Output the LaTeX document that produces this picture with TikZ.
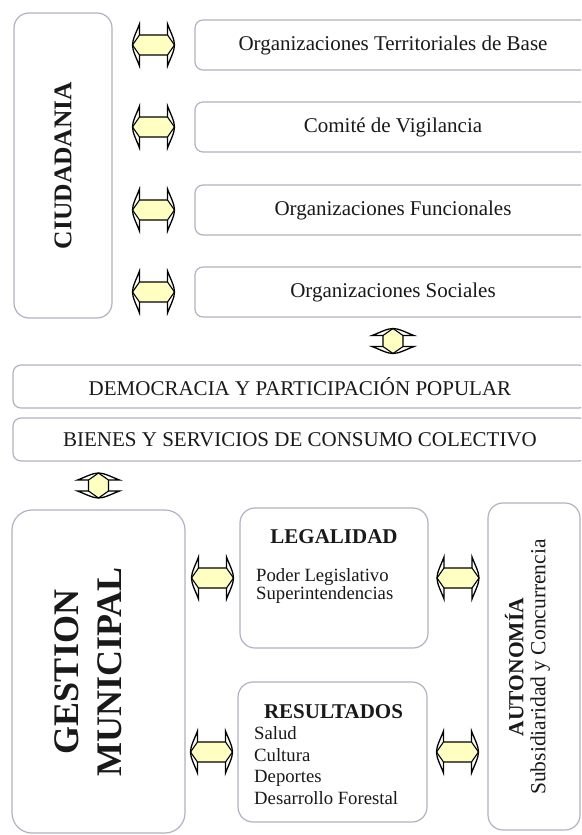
\documentclass[tikz,border=0pt]{standalone}
\usepackage{fontspec}
\setmainfont{Liberation Serif}
\usetikzlibrary{calc}
\definecolor{boxline}{HTML}{B4B0C4}
\definecolor{arrowfill}{HTML}{FFFFC2}
\tikzset{
  pics/dblarrow/.style={code={
    \pgfmathsetmacro\ha{#1/2}
    \pgfmathsetmacro\hb{#1/2-7}
    \filldraw[fill=arrowfill, draw=black, line width=1.1pt, line join=round]
      (-\ha,0) -- (-\hb,10) -- (\hb,10) -- (\ha,0) -- (\hb,-10) -- (-\hb,-10) -- cycle;
    \draw[line width=1.3pt] (-\hb,10) -- (-\hb,21) .. controls (-\hb-3,13) and (-\ha,6) .. (-\ha,0)
      .. controls (-\ha,-6) and (-\hb-3,-13) .. (-\hb,-21) -- (-\hb,-10);
    \draw[line width=1.3pt] (\hb,10) -- (\hb,21) .. controls (\hb+3,13) and (\ha,6) .. (\ha,0)
      .. controls (\ha,-6) and (\hb+3,-13) .. (\hb,-21) -- (\hb,-10);
  }}
}
\begin{document}
\begin{tikzpicture}[x=1pt,y=-1pt,
  box/.style={draw=boxline, line width=1.2pt, rounded corners=8pt, inner sep=0pt},
  txt/.style={font=\fontsize{21}{24}\selectfont, text=black!90},
  bold/.style={font=\bfseries\fontsize{21}{24}\selectfont, text=black!90}]
  \clip (0,0) rectangle (581,835);
  \fill[white] (0,0) rectangle (581,835);
  \node[box, rounded corners=15pt, minimum width=98pt, minimum height=305pt] (ciud) at (63,165.5) {};
  \node[rotate=90, font=\bfseries\fontsize{25.5}{28}\selectfont, text=black!90] (ciudtxt) at (ciud.center) {CIUDADANIA};
  \foreach \y/\t/\n in {45/Organizaciones Territoriales de Base/otb, 127/Comité de Vigilancia/cv,
      210/Organizaciones Funcionales/of, 292/Organizaciones Sociales/os} {
    \node[box, txt, minimum width=396pt, minimum height=50pt] (\n) at (393,\y) {\t};
    \pic at ($(ciud.east |- \n.west)!.5!(\n.west)$) {dblarrow=42};
  }
  \node[box, txt, minimum width=574pt, minimum height=43pt] (demo) at (300,386.5) {DEMOCRACIA Y PARTICIPACIÓN POPULAR};
  \node[box, txt, minimum width=574pt, minimum height=43pt] (bienes) at (300,439.5) {BIENES Y SERVICIOS DE CONSUMO COLECTIVO};
  \pic[rotate=90] at ($(os.south)!.5!(os.south |- demo.north)$) {dblarrow=25};
  \node[box, rounded corners=20pt, minimum width=173pt, minimum height=323pt] (gest) at (98.5,671.5) {};
  \node[rotate=90, align=center, font=\bfseries\fontsize{36}{43}\selectfont, text=black!90] (gesttxt) at (88,672) {GESTION\\MUNICIPAL};
  \pic[rotate=90] at ($(bienes.south -| gest.north)!.5!(gest.north)$) {dblarrow=25};
  \node[box, rounded corners=15pt, minimum width=188pt, minimum height=140pt] (legal) at (334,578) {};
  \node[bold] (legaltit) at (334,537) {LEGALIDAD};
  \node[anchor=west, align=left, inner sep=0pt, text=black!90, font=\fontsize{18.7}{18.3}\selectfont] (legalitems) at (256,586) {Poder Legislativo\\Superintendencias};
  \node[box, rounded corners=15pt, minimum width=189pt, minimum height=140pt] (result) at (332.5,752) {};
  \node[bold] (resulttit) at (333.5,712) {RESULTADOS};
  \node[anchor=west, align=left, inner sep=0pt, text=black!90, font=\fontsize{18.7}{21.7}\selectfont] (resultitems) at (254,765.5) {Salud\\Cultura\\Deportes\\Desarrollo Forestal};
  \node[box, rounded corners=15pt, minimum width=92pt, minimum height=327pt] (auto) at (534,666.5) {};
  \node[rotate=90, align=center, text=black!90, font=\fontsize{21.5}{22}\selectfont] (autotxt) at (527.5,667) {\textbf{AUTONOMÍA}\\Subsidiaridad y Concurrencia};
  \pic at ($(gest.east |- legal.west)!.5!(legal.west)$) {dblarrow=42};
  \pic at ($(gest.east |- result.west)!.5!(result.west)$) {dblarrow=42};
  \pic at ($(legal.east)!.5!(auto.west |- legal.east)$) {dblarrow=42};
  \pic at ($(result.east)!.5!(auto.west |- result.east)$) {dblarrow=42};
\end{tikzpicture}
\end{document}
